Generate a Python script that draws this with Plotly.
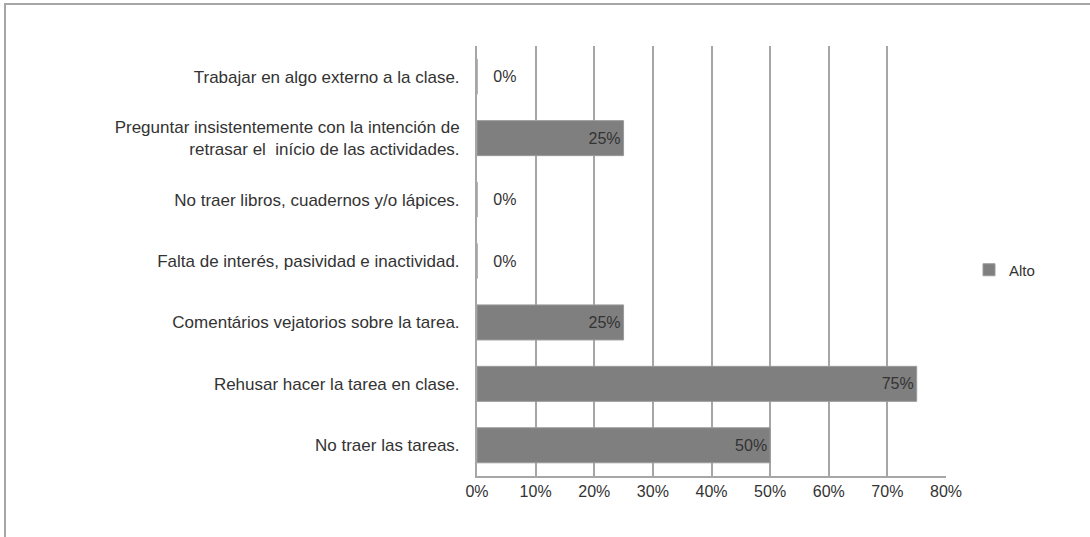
import plotly.graph_objects as go

categories = [
    "Trabajar en algo externo a la clase.",
    "Preguntar insistentemente con la intención de<br>retrasar el  início de las actividades.",
    "No traer libros, cuadernos y/o lápices.",
    "Falta de interés, pasividad e inactividad.",
    "Comentários vejatorios sobre la tarea.",
    "Rehusar hacer la tarea en clase.",
    "No traer las tareas.",
]
values_alto = [0, 25, 0, 0, 25, 75, 50]
tick_vals = [0, 10, 20, 30, 40, 50, 60, 70, 80]
tick_text = ["0%", "10%", "20%", "30%", "40%", "50%", "60%", "70%", "80%"]
series_name = "Alto"

W, H = 1090, 537
L, R, T, B = 477, 144, 46, 61
pw, ph = W - L - R, H - T - B

FONT = "Liberation Sans Narrow, Arial Narrow, Liberation Sans, sans-serif"

fig = go.Figure()
fig.add_trace(go.Bar(
    y=categories,
    x=values_alto,
    orientation="h",
    name=series_name,
    marker=dict(color="#7f7f7f", line=dict(color="#9a9a9a", width=1)),
    text=[f"{v}%" if v > 0 else f"   {v}%" for v in values_alto],
    textposition=["inside" if v > 0 else "outside" for v in values_alto],
    insidetextanchor="end",
    textfont=dict(family=FONT, size=16, color="#333333"),
    cliponaxis=False,
))


def px_to_paper_x(px):
    return (px - L) / pw


def px_to_paper_y(py):
    return (H - B - py) / ph


fig.update_layout(
    width=W, height=H,
    margin=dict(l=L, r=R, t=T, b=B),
    plot_bgcolor="white",
    paper_bgcolor="white",
    bargap=0.43,
    font=dict(family=FONT, size=16, color="#333333"),
    showlegend=True,
    legend=dict(
        x=px_to_paper_x(969), y=px_to_paper_y(270),
        xanchor="left", yanchor="middle",
        font=dict(family=FONT, size=15, color="#333333"),
        itemwidth=30,
    ),
    xaxis=dict(
        range=[0, 80],
        tickvals=tick_vals,
        ticktext=tick_text,
        showgrid=True,
        gridcolor="#a6a6a6",
        gridwidth=2,
        zeroline=False,
        showline=True,
        linecolor="#a6a6a6",
        linewidth=2,
        ticks="",
        tickfont=dict(family=FONT, size=16, color="#333333"),
    ),
    yaxis=dict(
        categoryorder="array",
        categoryarray=categories[::-1],
        showgrid=False,
        showline=True,
        linecolor="#a6a6a6",
        linewidth=2,
        ticks="",
        ticklabelstandoff=12,
        tickfont=dict(family=FONT, size=17, color="#333333"),
    ),
    shapes=[dict(
        type="rect", xref="paper", yref="paper",
        x0=px_to_paper_x(5), x1=px_to_paper_x(1100),
        y0=px_to_paper_y(560), y1=px_to_paper_y(4),
        line=dict(color="#a6a6a6", width=2),
        fillcolor="rgba(0,0,0,0)",
        layer="below",
    )],
)

fig.write_html(
    "out.html",
    config={"displayModeBar": False},
    post_script="document.body.style.margin='0';",
)
